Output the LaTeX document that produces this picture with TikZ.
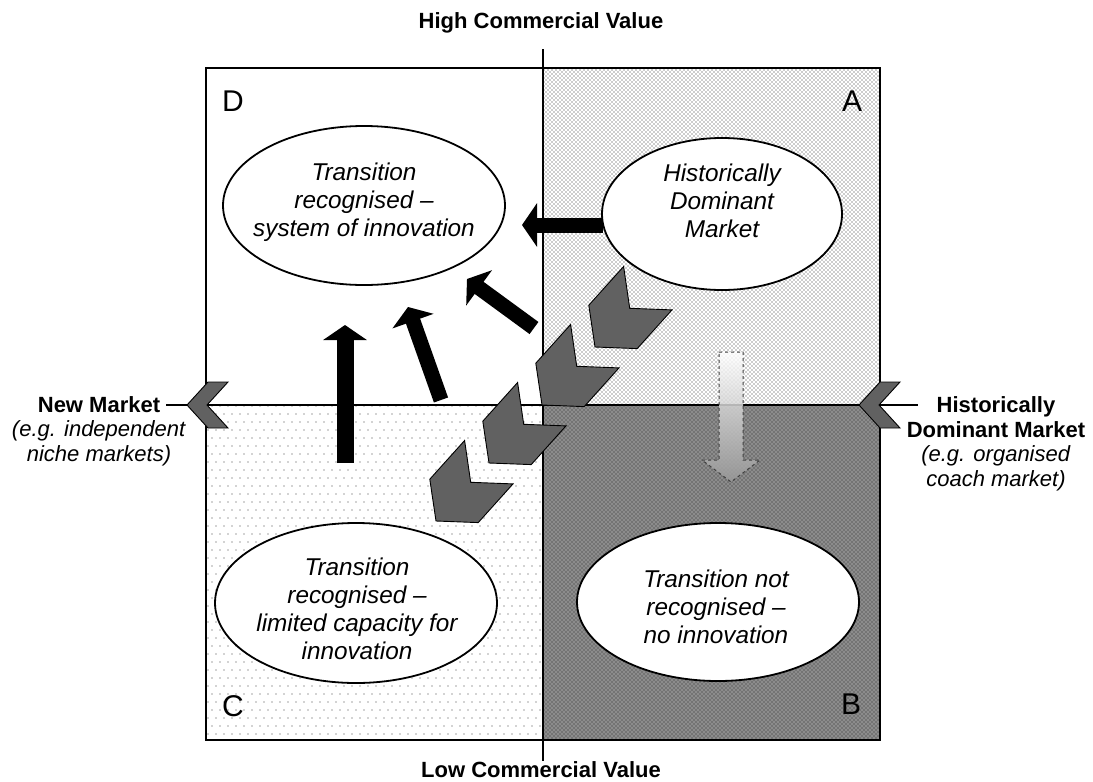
\documentclass[tikz,border=0pt]{standalone}
\usepackage{fontspec}
\setmainfont{Liberation Sans}
\usetikzlibrary{arrows.meta,shapes.geometric,patterns}

\pgfdeclarepatternformonly{sparsedots}{\pgfqpoint{-1pt}{-1pt}}{\pgfqpoint{7pt}{15pt}}{\pgfqpoint{8pt}{16pt}}{%
  \pgfpathcircle{\pgfqpoint{0pt}{0pt}}{0.65pt}%
  \pgfpathcircle{\pgfqpoint{4pt}{8pt}}{0.65pt}%
  \pgfusepath{fill}}
\pgfdeclarepatternformonly{densedots}{\pgfqpoint{-1pt}{-1pt}}{\pgfqpoint{3pt}{3pt}}{\pgfqpoint{4pt}{4pt}}{%
  \pgfpathcircle{\pgfqpoint{0pt}{0pt}}{0.72pt}%
  \pgfpathcircle{\pgfqpoint{2pt}{2pt}}{0.72pt}%
  \pgfusepath{fill}}

\begin{document}
\begin{tikzpicture}[x=1pt,y=-1pt,
  ell/.style={ellipse, draw, line width=1.8pt, fill=white, inner sep=0pt},
  etext/.style={anchor=base, align=center, inner sep=0pt, font=\fontsize{24.3}{28}\selectfont\itshape},
  corner/.style={inner sep=0pt, font=\fontsize{30}{30}\selectfont},
  axis/.style={line width=2.8pt},
  lab/.style={anchor=base, align=center, inner sep=0pt, font=\fontsize{22}{24.5}\selectfont},
  chev/.style={fill=black!62, draw=black, line width=0.9pt, line join=miter},
  bigarrow/.style={line width=15pt, -{Triangle[length=15pt,width=43pt]}},
  ghostarrow/.style={draw=black!75, dashed, line width=1pt, top color=white, bottom color=black!40, fill opacity=0.85}
]
\useasboundingbox (0,0) rectangle (1093,782);

% quadrant fills
\fill[white] (206,68) rectangle (543,405);
\fill[pattern=densedots, pattern color=black!85] (543,68) rectangle (880,405);
\fill[pattern=sparsedots, pattern color=black!75] (206,405) rectangle (543,740);
\fill[black!45] (543,405) rectangle (880,740);
\fill[pattern=densedots, pattern color=black!85] (543,405) rectangle (880,740);
\draw[line width=1.3pt] (206,68) rectangle (880,740);

% ellipses
\node[ell, minimum width=282pt, minimum height=159pt] (eD) at (364,205.5) {};
\node[ell, minimum width=240pt, minimum height=152pt] (eA) at (722,214) {};
\node[ell, minimum width=282pt, minimum height=158pt] (eB) at (718,602) {};
\node[ell, minimum width=282pt, minimum height=160pt] (eC) at (356,603) {};
\node[etext] (tD) at (364,236) {Transition\\recognised –\\system of innovation};
\node[etext] (tA) at (722,237) {Historically\\Dominant\\Market};
\node[etext] (tB) at (716,643) {Transition not\\recognised –\\no innovation};
\node[etext] (tC) at (357,659) {Transition\\recognised –\\limited capacity for\\innovation};

% corner letters
\node[corner] (lD) at (233,101) {D};
\node[corner] (lA) at (852,101) {A};
\node[corner] (lC) at (233,706) {C};
\node[corner] (lB) at (851,704) {B};

% labels
\node[lab] (top) at (541,28) {\textbf{High Commercial Value}};
\node[lab] (bot) at (541,777) {\textbf{Low Commercial Value}};
\node[lab] (newm) at (99,461) {\textbf{New Market}\\\textit{(e.g. independent}\\\textit{niche markets)}};
\node[lab] (hdm) at (996,486) {\textbf{Historically}\\\textbf{Dominant Market}\\\textit{(e.g. organised}\\\textit{coach market)}};

% axes
\coordinate (vtop) at (543,49);
\coordinate (vbot) at (543,761);
\coordinate (hleft) at (166,405);
\coordinate (hright) at (918,405);
\draw[axis] (vtop) -- (vbot);
\draw[axis] (hleft) -- (hright);

% axis chevrons (pointing left)
\draw[chev] (187,405) -- +(21,-23) -- +(41,-23) -- +(20,0) -- +(41,23) -- +(21,23) -- cycle;
\draw[chev] (859,405) -- +(21,-23) -- +(41,-23) -- +(20,0) -- +(41,23) -- +(21,23) -- cycle;

% ghost (dashed) arrow from A to B
\path[ghostarrow] (719,352) -- (743,352) -- (743,460) -- (760,460) -- (731,482) -- (702,460) -- (719,460) -- cycle;

% diagonal chevrons from A to C
\foreach \x/\y in {595/347, 542/405, 489/463, 436/521}{
  \draw[chev] (\x,\y) -- +(-6.2,-41.8) -- +(28.6,-80.5) -- +(34.7,-38.7) -- +(77,-37.1) -- +(42.2,1.6) -- cycle;
}

% black arrows into D
\coordinate (a1s) at (603,225);
\coordinate (a1e) at (522,225);
\coordinate (a2s) at (534,328);
\coordinate (a2e) at (467,279);
\coordinate (a3s) at (441,400);
\coordinate (a3e) at (408,307);
\coordinate (a4s) at (345,463);
\coordinate (a4e) at (345,325);
\draw[bigarrow] (a1s) -- (a1e);
\draw[bigarrow] (a2s) -- (a2e);
\draw[bigarrow] (a3s) -- (a3e);
\draw[bigarrow, line width=17pt] (a4s) -- (a4e);
\end{tikzpicture}
\end{document}
